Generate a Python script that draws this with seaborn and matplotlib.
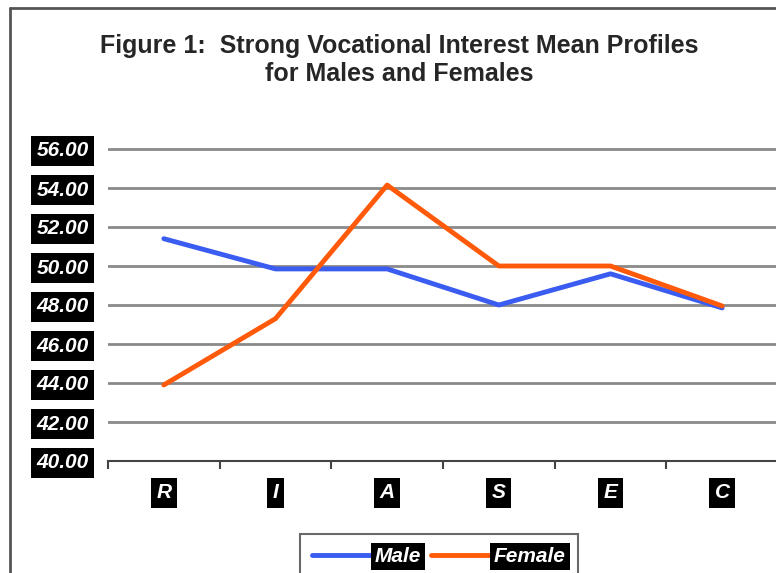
import numpy as np
import pandas as pd
import seaborn as sns
import matplotlib.pyplot as plt
from matplotlib.lines import Line2D

themes = ["R", "I", "A", "S", "E", "C"]
male = [51.4, 49.85, 49.85, 48.0, 49.6, 47.85]
female = [43.9, 47.3, 54.15, 50.0, 50.0, 47.95]
yticks = [40, 42, 44, 46, 48, 50, 52, 54, 56]
title = "Figure 1:  Strong Vocational Interest Mean Profiles\nfor Males and Females"

df = pd.DataFrame({
    "Theme": themes * 2,
    "Score": male + female,
    "Sex": ["Male"] * 6 + ["Female"] * 6,
})

sns.set_style("white")
plt.rcParams["font.family"] = ["Liberation Sans", "DejaVu Sans"]

fig = plt.figure(figsize=(7.76, 5.73), dpi=100)
ax = fig.add_axes([108 / 776, 1 - 461 / 573, 670 / 776, (461 - 129.5) / 573])

sns.lineplot(data=df, x="Theme", y="Score", hue="Sex", sort=False,
             palette={"Male": "#3a5cf0", "Female": "#ff5a0a"},
             linewidth=3.5, ax=ax)

ax.set_ylim(40, 57)
ax.set_xlim(-0.5, 5.5)
ax.set_yticks(yticks)
ax.set_yticklabels([f"{v:.2f}" for v in yticks])
ax.grid(axis="y", color="#8a8a8a", linewidth=2)
ax.set_axisbelow(True)
for s in ["top", "right", "left"]:
    ax.spines[s].set_visible(False)
ax.spines["bottom"].set_color("#444444")
ax.spines["bottom"].set_linewidth(1.5)

ax.set_xticks(np.arange(-0.5, 6, 1))
ax.set_xticklabels([])
ax.set_xticks(range(6), minor=True)
ax.set_xticklabels(themes, minor=True)
ax.tick_params(axis="x", which="major", direction="out", length=6, width=1.5, color="#444444", bottom=True)
ax.tick_params(axis="x", which="minor", length=0, pad=16, labelcolor="white", labelsize=15)
ax.tick_params(axis="y", length=0, pad=14, labelcolor="white", labelsize=15)
ax.set_xlabel("")
ax.set_ylabel("")

for lbl in ax.get_yticklabels():
    lbl.set_fontweight("bold")
    lbl.set_fontstyle("italic")
    lbl.set_bbox(dict(facecolor="black", edgecolor="none", pad=4))
for lbl in ax.get_xticklabels(minor=True):
    lbl.set_fontweight("bold")
    lbl.set_fontstyle("italic")
    lbl.set_bbox(dict(facecolor="black", edgecolor="none", pad=4))

leg = ax.legend(loc="upper center", bbox_to_anchor=(439 / 776, 1 - 524 / 573),
                bbox_transform=fig.transFigure, ncol=2, frameon=True, fancybox=False,
                edgecolor="#444444", fontsize=15, handlelength=2.8, columnspacing=0.5,
                handletextpad=0.2, borderpad=0.6)
leg.get_frame().set_linewidth(1.5)
for t in leg.get_texts():
    t.set_color("white")
    t.set_fontweight("bold")
    t.set_fontstyle("italic")
    t.set_bbox(dict(facecolor="black", edgecolor="none", pad=3))

fig.text(0.515, 1 - 60 / 573, title, ha="center", va="center",
         fontsize=18, fontweight="bold", linespacing=1.25)

fig.add_artist(Line2D([10 / 776, 10 / 776], [0, 1 - 8 / 573], transform=fig.transFigure,
                      color="#555555", linewidth=2))
fig.add_artist(Line2D([10 / 776, 1], [1 - 8 / 573, 1 - 8 / 573], transform=fig.transFigure,
                      color="#555555", linewidth=2))

plt.savefig("out.png", dpi=100)
